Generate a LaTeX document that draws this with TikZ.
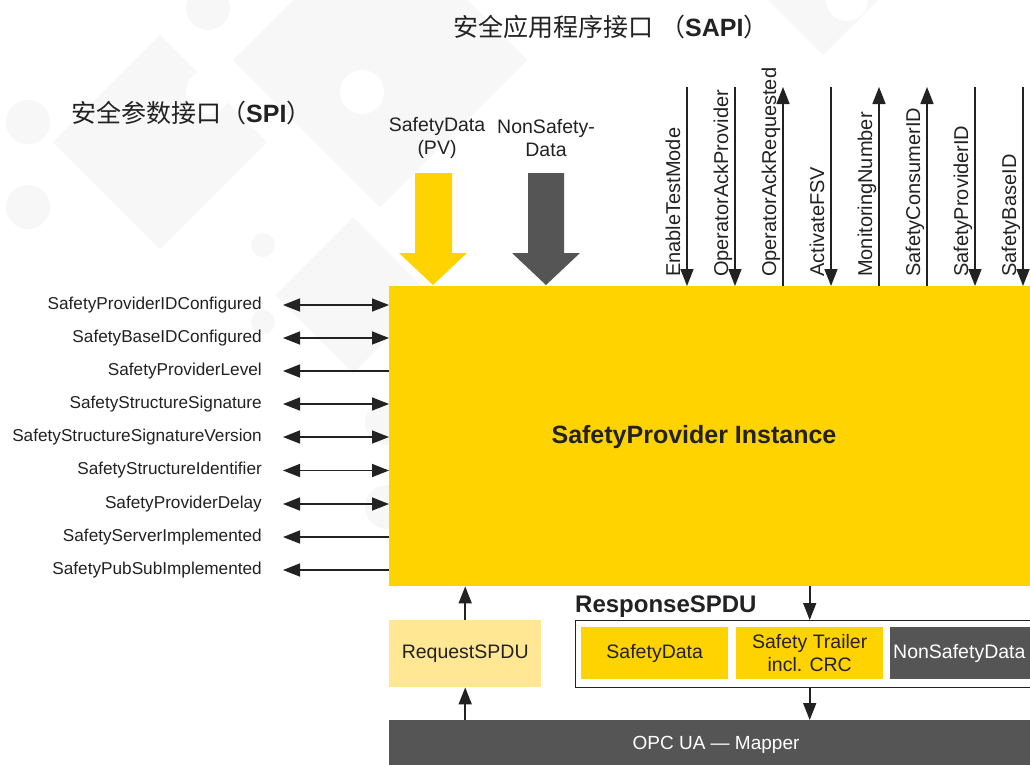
\documentclass[tikz,border=0pt]{standalone}
\usepackage{fontspec}
\setmainfont{Liberation Sans}
\newfontfamily\cjk{Noto Sans CJK SC}
\usetikzlibrary{arrows.meta}
\definecolor{ylw}{HTML}{FFD300}
\definecolor{lylw}{HTML}{FFE794}
\definecolor{dgray}{HTML}{555555}
\definecolor{txt}{HTML}{222222}
\definecolor{bgs}{HTML}{F7F7F7}
\begin{document}
\begin{tikzpicture}[x=1pt,y=-1pt,
  conn/.style={line width=1.6pt, draw=txt},
  >={Triangle[length=17pt,width=13pt]},
  lbl/.style={font=\fontsize{17.2}{20}\selectfont, text=txt, inner sep=0pt, anchor=east},
  vlbl/.style={font=\fontsize{20}{24}\selectfont, text=txt, inner sep=0pt, rotate=90, anchor=base west},
  box/.style={inner sep=0pt, anchor=north west, align=center},
  boxtxt/.style={font=\fontsize{19.5}{23}\selectfont},
  diam/.style={fill=bgs},
  dot/.style={fill=bgs},
  wdot/.style={fill=white}
]
\useasboundingbox (0,0) rectangle (1030,764);
\clip (0,0) rectangle (1030,764);
\fill[white] (0,0) rectangle (1030,764);
% background decoration
\fill[diam] (160,35) -- (267,142) -- (160,249) -- (53,142) -- cycle;
\fill[diam] (380,-87) -- (527,60) -- (380,207) -- (233,60) -- cycle;
\fill[diam] (353,217) -- (431,295) -- (353,373) -- (275,295) -- cycle;
\fill[diam] (823,-145) -- (923,-45) -- (823,55) -- (723,-45) -- cycle;
\fill[dot] (28,122) circle (22);
\fill[dot] (28,207) circle (22);
\fill[dot] (208,8) circle (22);
\fill[dot] (362,8) circle (22);
\fill[dot] (263,245) circle (12);
\fill[dot] (263,322) circle (12);
\fill[dot] (387,423) circle (22);
\fill[dot] (387,507) circle (22);
\fill[wdot] (208,92) circle (22);
\fill[wdot] (362,92) circle (22);
\fill[wdot] (847,0) circle (21);

% titles
\node[inner sep=0pt, anchor=west, text=txt, font=\fontsize{25}{30}\selectfont] (spi) at (71,113)
  {{\cjk 安全参数接口（}{\bfseries SPI}{\cjk ）}};
\node[inner sep=0pt, anchor=west, text=txt, font=\fontsize{25}{30}\selectfont] (sapi) at (453,27)
  {{\cjk 安全应用程序接口} {\cjk （}{\bfseries SAPI}{\cjk ）}};

% main box
\node[box, fill=ylw, minimum width=680pt, minimum height=300pt] (main) at (389,286) {};
\node[text=txt, font=\bfseries\fontsize{25}{30}\selectfont] (title) at (694,437) {SafetyProvider Instance};

% big arrows
\node[boxtxt, text=txt, align=center, inner sep=0pt] (pvlbl) at (437,138) {SafetyData\\(PV)};
\node[boxtxt, text=txt, align=center, inner sep=0pt] (nslbl) at (546,138) {NonSafety-\\Data};
\coordinate (pvtip) at (433,285);
\coordinate (nstip) at (546,285);
\fill[ylw] (415,173) -- (452,173) -- (452,253) -- (467,253) -- (pvtip) -- (399,253) -- (415,253) -- cycle;
\fill[dgray] (528,173) -- (564,173) -- (564,253) -- (580,253) -- (nstip) -- (512,253) -- (528,253) -- cycle;

% top arrows
\foreach \x/\t/\d [count=\i] in {687/EnableTestMode/d, 735/OperatorAckProvider/d, 783/OperatorAckRequested/u,
   831/ActivateFSV/d, 879/MonitoringNumber/u, 927/SafetyConsumerID/u, 975/SafetyProviderID/d, 1023/SafetyBaseID/d}{
  \coordinate (ta\i) at (\x,87);
  \node[vlbl] (tl\i) at (\x-7,277) {\t};
  \if d\d
    \draw[conn,->] (ta\i) -- (ta\i |- main.north);
  \else
    \draw[conn,<-] (ta\i) -- (ta\i |- main.north);
  \fi
}

% left arrows
\foreach \y/\t/\d [count=\i] in {305/SafetyProviderIDConfigured/b, 338/SafetyBaseIDConfigured/b,
   371/SafetyProviderLevel/l, 404/SafetyStructureSignature/b, 437/SafetyStructureSignatureVersion/b,
   470.5/SafetyStructureIdentifier/b, 504/SafetyProviderDelay/b, 537/SafetyServerImplemented/l,
   570/SafetyPubSubImplemented/l}{
  \node[lbl] (ll\i) at (262,\y) {\t};
  \coordinate (la\i) at (283,\y);
  \if b\d
    \draw[conn,<->] (la\i) -- (la\i -| main.west);
  \else
    \draw[conn,<-] (la\i) -- (la\i -| main.west);
  \fi
}

% bottom
\node[box, fill=lylw, minimum width=152pt, minimum height=67pt] (req) at (389,620) {};
\node[boxtxt, text=txt] (reqt) at (req.center) {RequestSPDU};
\node[inner sep=0pt, anchor=base west, text=txt, font=\bfseries\fontsize{24}{28}\selectfont] (resplbl) at (575,612) {ResponseSPDU};
\node[box, draw=txt, line width=1pt, fill=white, minimum width=480pt, minimum height=67pt] (resp) at (575,620) {};
\node[box, fill=ylw, minimum width=147pt, minimum height=52pt] (sd) at (581,627) {};
\node[boxtxt, text=txt] (sdt) at (sd.center) {SafetyData};
\node[box, fill=ylw, minimum width=147pt, minimum height=52pt] (trail) at (736,627) {};
\node[boxtxt, text=txt, align=center, inner sep=0pt] (trailt) at (trail.center) {Safety Trailer\\incl. CRC};
\node[box, fill=dgray, minimum width=160pt, minimum height=52pt] (nsd) at (890,627) {};
\node[boxtxt, text=white, anchor=west, inner sep=0pt] (nsdt) at (893,653) {NonSafetyData};
\node[box, fill=dgray, minimum width=680pt, minimum height=50pt] (map) at (389,720) {};
\node[text=white, font=\fontsize{19}{23}\selectfont] (mapt) at (716,745) {OPC UA — Mapper};

\draw[conn,->] (req.north) -- (req.north |- main.south);
\draw[conn,->] (req.south |- map.north) -- (req.south);
\draw[conn,->] (trail.center |- main.south) -- (trail.center |- resp.north);
\draw[conn,->] (trail.center |- resp.south) -- (trail.center |- map.north);
\end{tikzpicture}
\end{document}
